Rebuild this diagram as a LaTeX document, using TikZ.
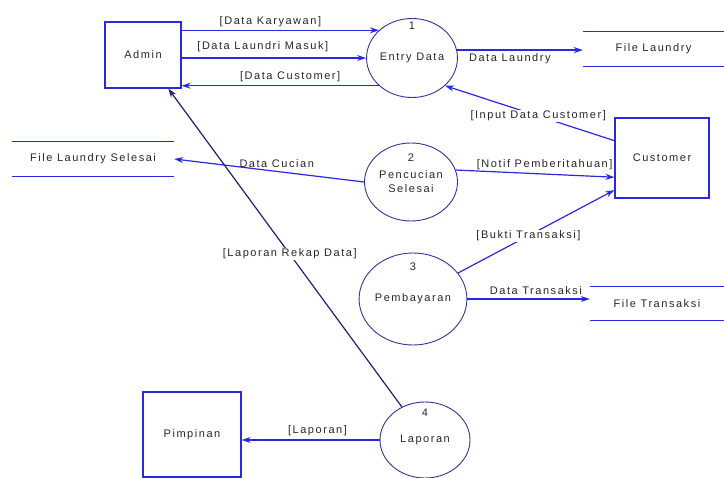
\documentclass[tikz,border=0pt]{standalone}
\usepackage{fontspec}
\setmainfont{Liberation Sans}[LetterSpace=14]
\usetikzlibrary{arrows.meta,shapes.geometric}
\definecolor{flowcol}{rgb}{0.16,0.16,0.88}
\definecolor{proccol}{rgb}{0.2,0.2,0.6}
\definecolor{rekapcol}{rgb}{0.12,0.12,0.45}
\definecolor{textcol}{rgb}{0.15,0.15,0.15}
\begin{document}
\begin{tikzpicture}[>={Stealth[length=9bp,width=6bp]},x=1bp,y=-1bp,
  every node/.style={font=\fontsize{11bp}{14bp}\selectfont,text=textcol},
  extern/.style={draw=flowcol,line width=1.2bp,rectangle},
  proc/.style={draw=proccol,line width=0.9bp,ellipse,align=center,inner sep=0pt},
  store/.style={rectangle,inner sep=0pt},
  flow/.style={->,draw=flowcol,line width=1.2bp},
  lbl/.style={fill=white,inner sep=1bp}]
  \useasboundingbox (0,0) rectangle (724,478);
%%
  % Node: admin
  \node[extern,minimum width=76bp,minimum height=66bp] (admin) at (143,55) {Admin};
  % Node: customer
  \node[extern,minimum width=94bp,minimum height=80bp] (customer) at (662,158) {Customer};
  % Node: pim
  \node[extern,minimum width=98bp,minimum height=85bp] (pim) at (192,434.5) {Pimpinan};
  % Node: entry
  \node[proc,minimum width=90bp,minimum height=79bp] (entry) at (412,58) {Entry Data};
  \node (num1) at (412,26) {1};
  % Node: pcs
  \node[proc,minimum width=93bp,minimum height=78bp] (pcs) at (411,182) {Pencucian\\Selesai};
  \node (num2) at (411,158) {2};
  % Node: pay
  \node[proc,minimum width=106bp,minimum height=92bp] (pay) at (413,299) {Pembayaran};
  \node (num3) at (413,267) {3};
  % Node: lap
  \node[proc,minimum width=90bp,minimum height=76bp] (lap) at (425,440) {Laporan};
  \node (num4) at (425,413) {4};
  % Node: stores
  \node[store,minimum width=141bp,minimum height=34bp] (fl) at (653.5,49) {File Laundry};
  \node[store,minimum width=162bp,minimum height=34bp] (fls) at (93,159) {File Laundry Selesai};
  \node[store,minimum width=134bp,minimum height=33bp] (ft) at (657,303.5) {File Transaksi};
  \foreach \s in {fl,fls,ft}
    \draw[flowcol,line width=1.2bp] (\s.north west) -- (\s.north east) (\s.south west) -- (\s.south east);
%%
  % Edge: admin -> entry
  \draw[flow] (admin.east |- entry.140) -- node[above,pos=0.45] {[Data Karyawan]} (entry.140);
  \draw[flow] (admin.east |- entry.west) -- node[above=2bp,pos=0.44] {[Data Laundri Masuk]} (entry.west);
  % Edge: entry -> admin
  \draw[flow] (entry.220) -- node[above,pos=0.45] {[Data Customer]} (admin.east |- entry.220);
  % Edge: entry -> fl
  \draw[flow] (entry.10) -- node[below,pos=0.42] {Data Laundry} (fl.west |- entry.10);
  % Edge: customer -> entry
  \draw[flow] (customer.160) -- node[lbl,pos=0.45] {[Input Data Customer]} (entry.-40);
  % Edge: pcs -> fls
  \draw[flow] (pcs.west) -- node[above,pos=0.46] {Data Cucian} (fls.east);
  % Edge: pcs -> customer
  \draw[flow] (pcs.15) -- node[above,pos=0.56] {[Notif Pemberitahuan]} (customer.-158);
  % Edge: pay -> customer
  \draw[flow] (pay.30) -- node[lbl,pos=0.45] {[Bukti Transaksi]} (customer.-146);
  % Edge: pay -> ft
  \draw[flow] (pay.east) -- node[above,pos=0.56] {Data Transaksi} (ft.west |- pay.east);
  % Edge: lap -> admin
  \draw[flow,draw=rekapcol] (lap.125) -- node[lbl,pos=0.48] {[Laporan Rekap Data]} (admin.-53);
  % Edge: lap -> pim
  \draw[flow] (lap.west) -- node[above,pos=0.45] {[Laporan]} (pim.east |- lap.west);
%
\end{tikzpicture}
\end{document}
